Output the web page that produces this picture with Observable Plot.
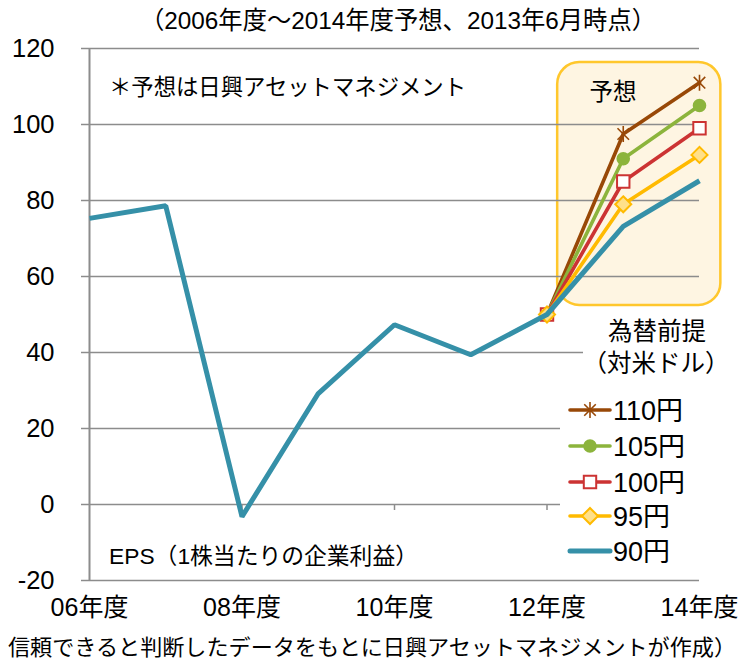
<!DOCTYPE html>
<html><head><meta charset="utf-8">
<script src="https://cdn.jsdelivr.net/npm/d3@7"></script>
<script src="https://cdn.jsdelivr.net/npm/@observablehq/plot@0.6"></script>
<style>
body{margin:0;background:#fff;}
#chart{width:746px;height:668px;}
</style></head><body><div id="chart"></div>
<script>
// ---- data ----
const actualYears = [2006, 2007, 2008, 2009, 2010, 2011, 2012];
const actualEPS = [75.3, 78.6, -3.2, 29.2, 47.3, 39.4, 50];
const forecastYears = [2012, 2013, 2014];
const fc110 = [50, 97.5, 111];
const fc105 = [50, 91, 105];
const fc100 = [50, 85, 99];
const fc95 = [50, 79, 92];
const fc90 = [50, 73.2, 85.2];
const seriesNames = ["110円", "105円", "100円", "95円", "90円"];
const yTicks = [-20, 0, 20, 40, 60, 80, 100, 120];
const xTickYears = [2006, 2008, 2010, 2012, 2014];
const xTickLabels = ["06年度", "08年度", "10年度", "12年度", "14年度"];
const titleText = "（2006年度～2014年度予想、2013年6月時点）";
const noteText = "＊予想は日興アセットマネジメント";
const forecastLabel = "予想";
const epsText = "EPS（1株当たりの企業利益）";
const legendTitle1 = "為替前提";
const legendTitle2 = "（対米ドル）";
const captionText = "信頼できると判断したデータをもとに日興アセットマネジメントが作成）";
// forecast highlight region (data units)
const forecastBox = [{x1: 2012.14, x2: 2014.28, y1: 52.4, y2: 116.3}];

// ---- styles ----
const colors = {"110円": "#984807", "105円": "#8CB43C", "100円": "#CC3333", "95円": "#FFBA00", "90円": "#3590A8"};
const fontStack = "'Liberation Sans','Noto Sans CJK JP',sans-serif";
const grid = "#8c8c8c";

// custom symbols
const symAsterisk = {draw(ctx, size) {
  const r = Math.sqrt(size / Math.PI), d = r * 0.72;
  ctx.moveTo(0, -r); ctx.lineTo(0, r);
  ctx.moveTo(-d, -d); ctx.lineTo(d, d);
  ctx.moveTo(-d, d); ctx.lineTo(d, -d);
}};
const symSquare = {draw(ctx, size) {
  const r = Math.sqrt(size / Math.PI);
  ctx.moveTo(-r, -r); ctx.lineTo(r, -r); ctx.lineTo(r, r); ctx.lineTo(-r, r); ctx.closePath();
}};
const symDiamond = {draw(ctx, size) {
  const r = Math.sqrt(size / Math.PI);
  ctx.moveTo(0, -r); ctx.lineTo(r, 0); ctx.lineTo(0, r); ctx.lineTo(-r, 0); ctx.closePath();
}};
const symCircle = {draw(ctx, size) {
  const r = Math.sqrt(size / Math.PI);
  ctx.moveTo(r, 0); ctx.arc(0, 0, r, 0, 2 * Math.PI);
}};
const markerStyle = {
  "110円": {symbol: symAsterisk, r: 8, fill: "none", stroke: colors["110円"], strokeWidth: 1.6},
  "105円": {symbol: symCircle, r: 6.8, fill: colors["105円"], stroke: "none", strokeWidth: 0},
  "100円": {symbol: symSquare, r: 6.2, fill: "#fff", stroke: colors["100円"], strokeWidth: 2},
  "95円": {symbol: symDiamond, r: 8, fill: "#FFE08A", stroke: colors["95円"], strokeWidth: 2}
};

const fcData = {"110円": fc110, "105円": fc105, "100円": fc100, "95円": fc95};
const toRows = (xs, ys) => xs.map((x, i) => ({x, y: ys[i]}));
const blueRows = toRows(actualYears, actualEPS).concat(toRows(forecastYears.slice(1), fc90.slice(1)));

const seriesMarks = [];
for (const name of ["110円", "105円", "100円", "95円"]) {
  const rows = toRows(forecastYears, fcData[name]);
  seriesMarks.push(Plot.line(rows, {x: "x", y: "y", stroke: colors[name], strokeWidth: 3.6, strokeLinejoin: "round"}));
  const m = markerStyle[name];
  seriesMarks.push(Plot.dot(rows, {x: "x", y: "y", symbol: m.symbol, r: m.r, fill: m.fill, stroke: m.stroke, strokeWidth: m.strokeWidth}));
}
seriesMarks.push(Plot.line(blueRows, {x: "x", y: "y", stroke: colors["90円"], strokeWidth: 5, strokeLinejoin: "miter", strokeLinecap: "butt"}));

const plot = Plot.plot({
  width: 746, height: 668,
  marginLeft: 89, marginRight: 47, marginTop: 48, marginBottom: 88,
  style: {fontFamily: fontStack, background: "#fff", color: "#000", overflow: "visible"},
  x: {domain: [2006, 2014]},
  y: {domain: [-20, 120]},
  marks: [
    Plot.rect(forecastBox, {x1: "x1", x2: "x2", y1: "y1", y2: "y2", fill: "#FEF5E2", stroke: "#FFC72C", strokeWidth: 2.5, rx: 22}),
    Plot.ruleY(yTicks, {stroke: grid, strokeWidth: 1.5}),
    Plot.ruleX([2006], {stroke: grid, strokeWidth: 2}),
    Plot.ruleX(xTickYears.slice(1), {y1: 0, y2: 0, insetTop: 0, insetBottom: -6, stroke: grid, strokeWidth: 1.5}),
    Plot.axisY({ticks: yTicks, tickSize: 8, tickPadding: 27, fontSize: 25.5, stroke: grid, strokeWidth: 1.5, tickFormat: d => String(d), label: null}),
    Plot.axisX({ticks: xTickYears, tickSize: 0, tickPadding: 18, fontSize: 25, tickFormat: d => xTickLabels[xTickYears.indexOf(d)], label: null}),
    ...seriesMarks
  ]
});

const svg = d3.select(plot);
function addText(str, x, y, size, anchor = "start", len = null) {
  const t = svg.append("text").text(str)
    .attr("x", x).attr("y", y)
    .attr("font-size", size).attr("font-family", fontStack)
    .attr("text-anchor", anchor).attr("dominant-baseline", "central")
    .attr("fill", "#000");
  if (len) t.attr("textLength", len).attr("lengthAdjust", "spacingAndGlyphs");
  return t;
}
addText(titleText, 398, 20, 24.5, "middle", 516);
addText(noteText, 109, 87, 22.5, "start", 357);
addText(forecastLabel, 613, 92, 23.5, "middle");
addText(epsText, 109, 556, 22.5, "start", 309);
addText(captionText, 8, 648, 21.5, "start", 728);

// legend backgrounds
svg.append("rect").attr("x", 583).attr("y", 313).attr("width", 160).attr("height", 66).attr("fill", "#fff");
svg.append("rect").attr("x", 560).attr("y", 390).attr("width", 183).attr("height", 182).attr("fill", "#fff");
addText(legendTitle1, 657, 331, 24.5, "middle");
addText(legendTitle2, 656, 363, 24.5, "middle");

const legendY = [410, 446, 482, 516, 551];
seriesNames.forEach((name, i) => {
  const y = legendY[i];
  svg.append("line").attr("x1", 570).attr("x2", 610).attr("y1", y).attr("y2", y)
    .attr("stroke", colors[name]).attr("stroke-width", name === "90円" ? 5 : 3.6).attr("stroke-linecap", "round");
  const m = markerStyle[name];
  if (m) {
    svg.append("path").attr("d", d3.symbol(m.symbol, Math.PI * m.r * m.r)())
      .attr("transform", `translate(590,${y})`)
      .attr("fill", m.fill).attr("stroke", m.stroke).attr("stroke-width", m.strokeWidth);
  }
  addText(name, 613, y + 1, 27);
});

document.getElementById("chart").appendChild(plot);
</script>
</body></html>
